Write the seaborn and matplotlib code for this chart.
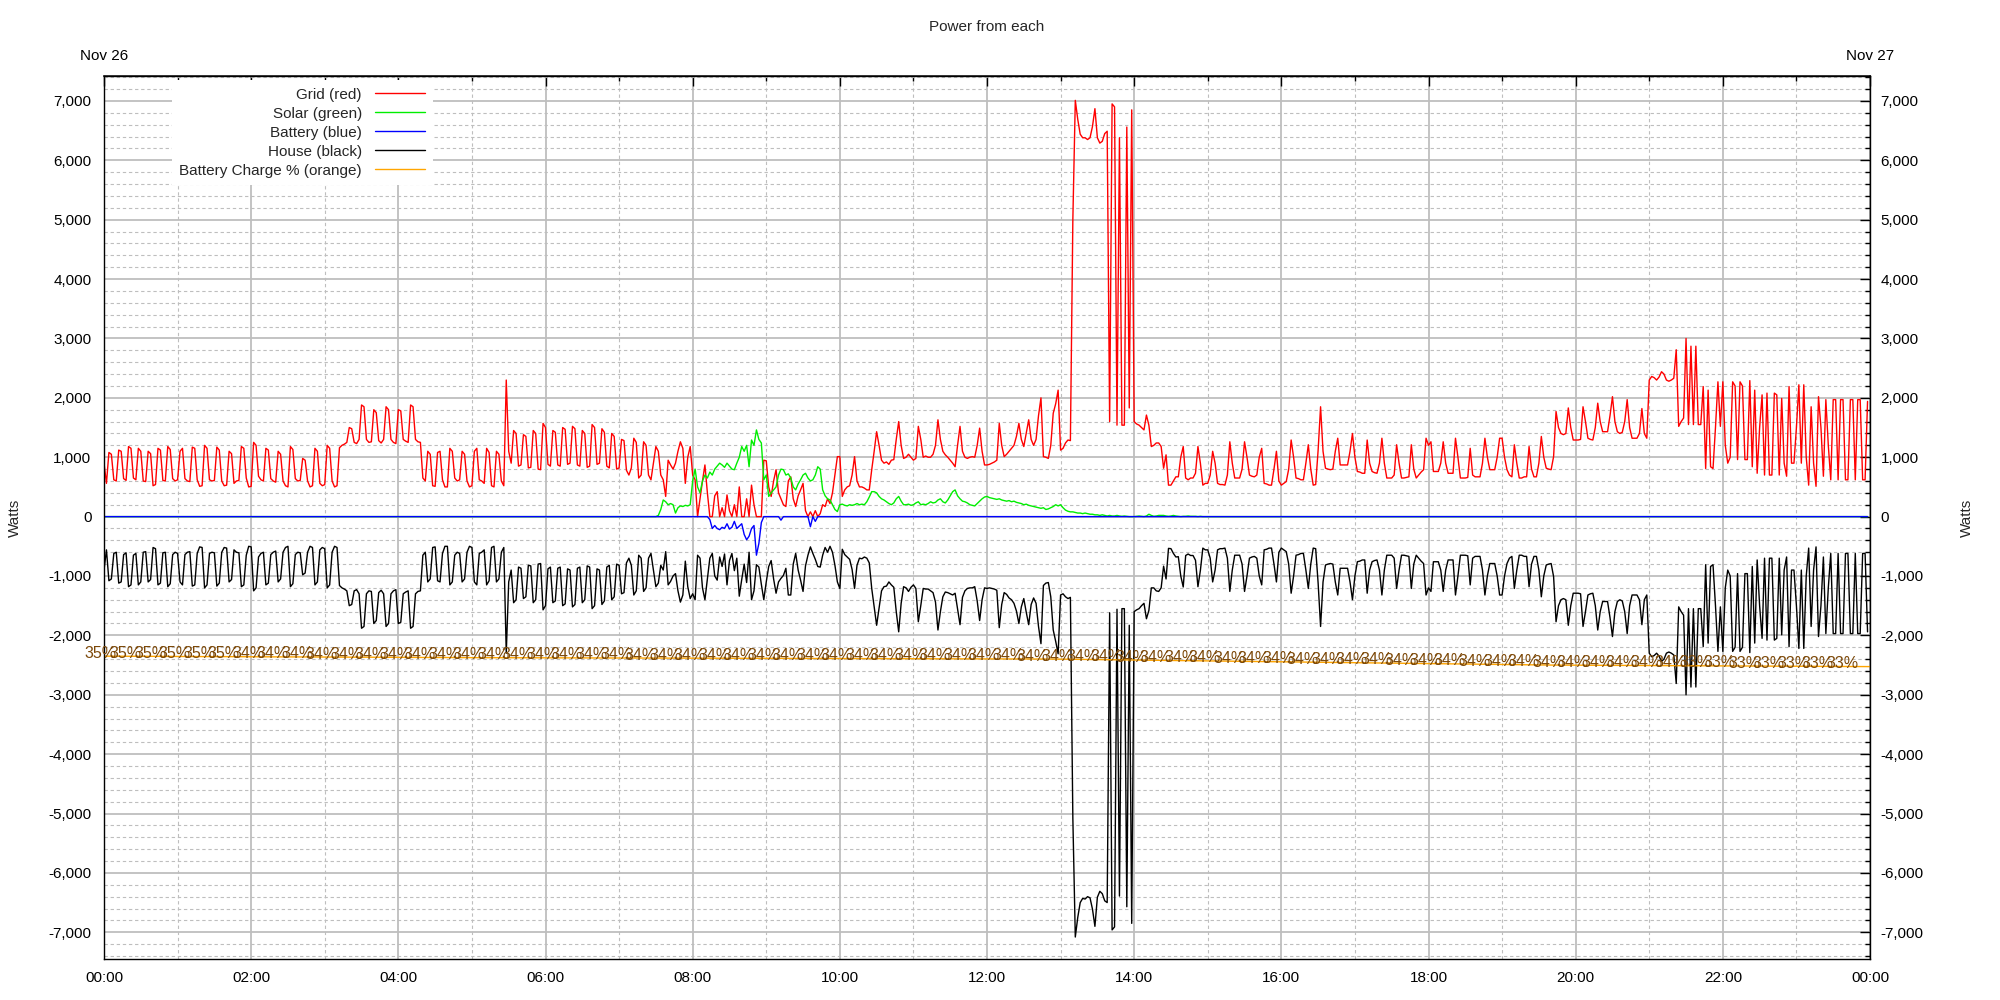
import numpy as np
import pandas as pd
import matplotlib
matplotlib.use("Agg")
import matplotlib.pyplot as plt
from matplotlib.ticker import MultipleLocator, FuncFormatter, FixedLocator
import seaborn as sns

# ======================
# DATA (watts, one value every 2 minutes, one line per hour)
# ======================

grid_w = [
    900, 560, 1080, 1050, 620, 600, 1120, 1100, 640, 610, 1180, 1150, 650, 620, 1150, 1100, 600, 590, 1100, 1060, 520, 540, 1150, 1120, 610, 600, 1180, 1130, 640, 600,
    620, 1100, 1150, 640, 600, 590, 1170, 1150, 620, 510, 520, 1200, 1150, 620, 600, 610, 1170, 1120, 600, 520, 530, 1100, 1060, 560, 600, 610, 1180, 1150, 650, 500,
    510, 1250, 1200, 680, 620, 600, 1150, 1120, 640, 600, 580, 1100, 1050, 600, 520, 500, 1180, 1130, 640, 600, 610, 980, 950, 600, 500, 520, 1150, 1100, 560, 520,
    540, 1200, 1150, 600, 500, 520, 1160, 1200, 1220, 1250, 1500, 1480, 1250, 1230, 1300, 1880, 1850, 1300, 1250, 1260, 1800, 1750, 1280, 1240, 1300, 1850, 1800, 1300, 1250, 1230,
    1800, 1780, 1300, 1270, 1250, 1880, 1850, 1300, 1260, 1250, 650, 600, 1100, 1050, 520, 510, 1080, 1100, 620, 500, 500, 1150, 1100, 650, 600, 620, 1100, 1050, 600, 500,
    520, 1100, 1150, 620, 600, 560, 1150, 1080, 520, 500, 1100, 1050, 600, 520, 2300, 1100, 900, 1450, 1400, 850, 870, 1380, 1350, 820, 830, 1450, 1400, 800, 790, 1570,
    1500, 880, 850, 1450, 1420, 870, 850, 1500, 1470, 880, 900, 1520, 1480, 870, 850, 1450, 1400, 830, 850, 1550, 1500, 880, 900, 1480, 1420, 850, 820, 1400, 1350, 800,
    820, 1300, 1280, 780, 700, 820, 1320, 1250, 650, 700, 1260, 1200, 700, 620, 900, 1180, 1100, 700, 620, 340, 950, 870, 800, 900, 1100, 1260, 1150, 560, 1000, 1180,
    700, 620, 0, 300, 600, 870, 400, 0, 0, 350, 420, 0, 150, 0, 365, 100, 0, 200, 0, 500, 0, 0, 300, 0, 530, 200, 0, 0, 0, 950,
    940, 500, 340, 600, 790, 400, 300, 200, 170, 600, 670, 300, 170, 350, 450, 560, 100, 0, 80, 0, 100, 0, 50, 200, 170, 300, 220, 400, 700, 1010,
    1010, 340, 450, 500, 520, 700, 1010, 600, 500, 500, 480, 450, 450, 790, 1100, 1430, 1200, 950, 900, 920, 880, 950, 960, 1300, 1600, 1200, 980, 1000, 1050, 1000,
    950, 980, 1520, 1300, 1000, 1020, 1000, 1000, 1050, 1200, 1630, 1300, 1100, 1040, 1000, 950, 900, 840, 1200, 1520, 1100, 1000, 980, 1000, 1010, 1000, 1200, 1490, 1100, 870,
    870, 880, 900, 920, 950, 1570, 1200, 1010, 1050, 1100, 1150, 1200, 1350, 1570, 1300, 1180, 1400, 1630, 1300, 1200, 1300, 1700, 2000, 1010, 1000, 980, 1200, 1740, 1900, 2130,
    1120, 1150, 1240, 1290, 1280, 5000, 7010, 6690, 6440, 6380, 6380, 6350, 6380, 6570, 6870, 6380, 6290, 6320, 6450, 6490, 1600, 6950, 6900, 1540, 6380, 1540, 1540, 6560, 1830, 6850,
    1600, 1560, 1540, 1500, 1460, 1710, 1540, 1180, 1200, 1240, 1240, 1180, 815, 1040, 530, 530, 600, 670, 670, 1000, 1180, 650, 620, 650, 650, 730, 1180, 900, 530, 560,
    560, 700, 1100, 900, 560, 540, 540, 530, 700, 1260, 900, 650, 650, 650, 800, 1260, 1000, 700, 680, 670, 700, 1000, 1150, 560, 550, 530, 530, 800, 1100, 600,
    530, 560, 590, 800, 1290, 1000, 650, 640, 620, 620, 900, 1210, 800, 530, 540, 1120, 1850, 1100, 815, 800, 790, 800, 1100, 1320, 870, 870, 870, 870, 1100, 1400,
    1000, 760, 750, 730, 730, 1290, 900, 760, 740, 730, 900, 1320, 900, 650, 650, 650, 700, 1210, 900, 650, 650, 660, 670, 1210, 800, 650, 700, 750, 790, 1320,
    1200, 1260, 760, 760, 760, 900, 1260, 900, 730, 730, 730, 1320, 1000, 650, 650, 650, 660, 1150, 700, 670, 670, 670, 900, 1320, 1000, 790, 790, 790, 1000, 1320,
    1320, 1000, 790, 700, 670, 1210, 900, 650, 650, 670, 670, 1180, 800, 670, 670, 900, 1350, 1000, 815, 800, 790, 1010, 1770, 1500, 1400, 1380, 1400, 1830, 1500, 1290,
    1290, 1290, 1300, 1850, 1600, 1320, 1300, 1290, 1500, 1910, 1600, 1430, 1430, 1430, 1700, 2020, 1600, 1430, 1400, 1420, 1600, 1970, 1500, 1320, 1320, 1320, 1400, 1820, 1400, 1320,
    2300, 2360, 2340, 2300, 2350, 2440, 2400, 2300, 2280, 2300, 2330, 2810, 1520, 1600, 1660, 3000, 1550, 2870, 1550, 2870, 1550, 1550, 2190, 810, 2130, 840, 810, 1500, 2270, 1520,
    2270, 1200, 900, 1000, 2270, 2200, 960, 2270, 2200, 960, 960, 2290, 840, 2130, 730, 1500, 2050, 700, 2080, 700, 700, 2080, 2050, 700, 1990, 900, 680, 2190, 900, 900,
    1500, 2220, 900, 2220, 1000, 530, 1850, 900, 510, 2020, 1500, 680, 1970, 1200, 620, 1970, 1970, 620, 1970, 1970, 620, 620, 1970, 1970, 620, 1970, 1970, 620, 620, 1940,
]

house_w = [
    -900, -560, -1080, -1050, -620, -600, -1120, -1100, -640, -610, -1180, -1150, -650, -620, -1150, -1100, -600, -590, -1100, -1060, -520, -540, -1150, -1120, -610, -600, -1180, -1130, -640, -600,
    -620, -1100, -1150, -640, -600, -590, -1170, -1150, -620, -510, -520, -1200, -1150, -620, -600, -610, -1170, -1120, -600, -520, -530, -1100, -1060, -560, -600, -610, -1180, -1150, -650, -500,
    -510, -1250, -1200, -680, -620, -600, -1150, -1120, -640, -600, -580, -1100, -1050, -600, -520, -500, -1180, -1130, -640, -600, -610, -980, -950, -600, -500, -520, -1150, -1100, -560, -520,
    -540, -1200, -1150, -600, -500, -520, -1160, -1200, -1220, -1250, -1500, -1480, -1250, -1230, -1300, -1880, -1850, -1300, -1250, -1260, -1800, -1750, -1280, -1240, -1300, -1850, -1800, -1300, -1250, -1230,
    -1800, -1780, -1300, -1270, -1250, -1880, -1850, -1300, -1260, -1250, -650, -600, -1100, -1050, -520, -510, -1080, -1100, -620, -500, -500, -1150, -1100, -650, -600, -620, -1100, -1050, -600, -500,
    -520, -1100, -1150, -620, -600, -560, -1150, -1080, -520, -500, -1100, -1050, -600, -520, -2300, -1100, -900, -1450, -1400, -850, -870, -1380, -1350, -820, -830, -1450, -1400, -800, -790, -1570,
    -1500, -880, -850, -1450, -1420, -870, -850, -1500, -1470, -880, -900, -1520, -1480, -870, -850, -1450, -1400, -830, -850, -1550, -1500, -880, -900, -1480, -1420, -850, -820, -1400, -1350, -800,
    -820, -1300, -1280, -780, -700, -820, -1320, -1250, -650, -700, -1260, -1200, -700, -620, -900, -1180, -1120, -820, -900, -590, -1150, -1090, -1000, -960, -1250, -1440, -1320, -750, -1180, -1380,
    -1300, -1400, -650, -700, -1200, -1400, -1050, -700, -620, -1000, -1070, -680, -840, -630, -1150, -740, -620, -910, -700, -1340, -1060, -800, -1110, -600, -1400, -1250, -810, -850, -1140, -1400,
    -1100, -840, -740, -1050, -1290, -1100, -1040, -990, -870, -1320, -1320, -800, -620, -900, -1070, -1260, -830, -650, -510, -620, -720, -840, -850, -650, -520, -600, -500, -600, -820, -1100,
    -1210, -550, -640, -680, -720, -890, -1210, -820, -700, -710, -680, -700, -780, -1210, -1520, -1830, -1540, -1250, -1180, -1170, -1100, -1150, -1190, -1600, -1940, -1460, -1180, -1200, -1260, -1190,
    -1150, -1210, -1770, -1500, -1210, -1220, -1220, -1250, -1280, -1440, -1910, -1600, -1350, -1270, -1280, -1300, -1320, -1290, -1550, -1820, -1360, -1250, -1210, -1200, -1200, -1180, -1420, -1750, -1400, -1200,
    -1210, -1200, -1210, -1220, -1240, -1870, -1480, -1280, -1310, -1370, -1400, -1460, -1590, -1800, -1520, -1380, -1610, -1820, -1480, -1370, -1460, -1850, -2140, -1160, -1120, -1110, -1350, -1910, -2100, -2310,
    -1320, -1300, -1350, -1380, -1360, -5080, -7080, -6750, -6500, -6430, -6440, -6400, -6420, -6610, -6900, -6410, -6310, -6350, -6470, -6500, -1620, -6960, -6910, -1560, -6390, -1550, -1550, -6570, -1830, -6850,
    -1600, -1570, -1550, -1500, -1460, -1720, -1580, -1200, -1200, -1250, -1260, -1200, -835, -1050, -535, -540, -620, -680, -675, -1000, -1185, -655, -630, -655, -655, -735, -1180, -905, -530, -560,
    -560, -700, -1100, -900, -560, -540, -540, -530, -700, -1260, -900, -650, -650, -650, -800, -1260, -1000, -700, -680, -670, -700, -1000, -1150, -560, -550, -530, -530, -800, -1100, -600,
    -530, -560, -590, -800, -1290, -1000, -650, -640, -620, -620, -900, -1210, -800, -530, -540, -1120, -1850, -1100, -815, -800, -790, -800, -1100, -1320, -870, -870, -870, -870, -1100, -1400,
    -1000, -760, -750, -730, -730, -1290, -900, -760, -740, -730, -900, -1320, -900, -650, -650, -650, -700, -1210, -900, -650, -650, -660, -670, -1210, -800, -650, -700, -750, -790, -1320,
    -1200, -1260, -760, -760, -760, -900, -1260, -900, -730, -730, -730, -1320, -1000, -650, -650, -650, -660, -1150, -700, -670, -670, -670, -900, -1320, -1000, -790, -790, -790, -1000, -1320,
    -1320, -1000, -790, -700, -670, -1210, -900, -650, -650, -670, -670, -1180, -800, -670, -670, -900, -1350, -1000, -815, -800, -790, -1010, -1770, -1500, -1400, -1380, -1400, -1830, -1500, -1290,
    -1290, -1290, -1300, -1850, -1600, -1320, -1300, -1290, -1500, -1910, -1600, -1430, -1430, -1430, -1700, -2020, -1600, -1430, -1400, -1420, -1600, -1970, -1500, -1320, -1320, -1320, -1400, -1820, -1400, -1320,
    -2300, -2360, -2340, -2300, -2350, -2440, -2400, -2300, -2280, -2300, -2330, -2810, -1520, -1600, -1660, -3000, -1550, -2870, -1550, -2870, -1550, -1550, -2190, -810, -2130, -840, -810, -1500, -2270, -1520,
    -2270, -1200, -900, -1000, -2270, -2200, -960, -2270, -2200, -960, -960, -2290, -840, -2130, -730, -1500, -2050, -700, -2080, -700, -700, -2080, -2050, -700, -1990, -900, -680, -2190, -900, -900,
    -1500, -2220, -900, -2220, -1000, -530, -1850, -900, -510, -2020, -1500, -680, -1970, -1200, -620, -1970, -1970, -620, -1970, -1970, -620, -620, -1970, -1970, -620, -1970, -1970, -620, -620, -1940,
]

# solar only between 07:30 and 15:00, zero the rest of the day
solar_start = 450
solar_w = [
    0, 20, 120, 280, 250, 200, 220, 200, 60, 150, 180, 170, 190, 180, 200,
    600, 800, 500, 400, 600, 700, 650, 750, 700, 800, 850, 900, 870, 830, 900, 850, 800, 790, 900, 1000, 1180, 1100, 1200, 840, 1290, 1200, 1460, 1300, 1240, 620,
    700, 340, 400, 450, 500, 700, 800, 790, 700, 720, 650, 500, 450, 550, 620, 700, 730, 650, 600, 620, 700, 840, 800, 450, 350, 300, 280, 200, 120, 85,
    200, 210, 190, 180, 200, 190, 200, 220, 200, 210, 200, 250, 330, 420, 420, 400, 340, 300, 280, 250, 220, 200, 230, 300, 340, 260, 200, 200, 210, 190,
    200, 230, 250, 200, 210, 200, 220, 250, 230, 240, 280, 300, 250, 230, 280, 350, 420, 450, 350, 300, 260, 250, 230, 200, 190, 180, 220, 260, 300, 330,
    340, 320, 310, 300, 290, 300, 280, 270, 260, 270, 250, 260, 240, 230, 220, 200, 210, 190, 180, 170, 160, 150, 140, 150, 120, 130, 150, 170, 200, 180,
    200, 150, 110, 90, 80, 80, 70, 60, 60, 50, 60, 50, 40, 40, 30, 30, 20, 30, 20, 10, 20, 10, 10, 20, 10, 5, 10, 5, 0, 0,
    0, 5, 10, 5, 0, 10, 40, 20, 5, 10, 20, 20, 20, 10, 5, 10, 20, 10, 5, 0, 5, 5, 10, 5, 5, 5, 0, 5, 0, 0,
]

# battery only moves between 08:00 and 10:00 (charging = negative)
battery_start = 480
battery_w = [
    0, 0, 0, 0, 0, 0, 0, -50, -200, -150, -200, -220, -180, -200, -120, -210, -180, -80, -200, -160, -120, -300, -390, -330, -200, -150, -650, -450, -100, 0,
    0, 0, 0, 0, 0, 0, -60, 0, 0, 0, 0, 0, 0, 0, 0, 0, 0, 0, -170, 0, -80, 0, 0, 0, 0, 0, 0, 0, 0, 0,
]

# battery charge line (every 20 minutes) and its % labels
charge_line_w = [
    -2350, -2352, -2353, -2355, -2357, -2358, -2360, -2362, -2363, -2365, -2367, -2368, -2370, -2372, -2373, -2375,
    -2376, -2377, -2378, -2379, -2380, -2381, -2382, -2383, -2384, -2385, -2386, -2387, -2388, -2389, -2390, -2391,
    -2392, -2393, -2394, -2395, -2396, -2397, -2398, -2400,
    -2405, -2410, -2415, -2420, -2425, -2430, -2435, -2440, -2445, -2450, -2455, -2460, -2465, -2470, -2475, -2480,
    -2485, -2490, -2495, -2500,
    -2502, -2504, -2506, -2508, -2510, -2512, -2514, -2516, -2518, -2520, -2522, -2524, -2526,
]
charge_pct = [
    35, 35, 35, 35, 35, 35,
    34, 34, 34, 34, 34, 34, 34, 34, 34, 34, 34, 34, 34, 34, 34, 34, 34, 34, 34, 34,
    34, 34, 34, 34, 34, 34, 34, 34, 34, 34, 34, 34, 34, 34, 34, 34, 34, 34, 34, 34,
    34, 34, 34, 34, 34, 34, 34, 34, 34, 34, 34, 34, 34, 34, 34, 34, 34, 34, 34,
    33, 33, 33, 33, 33, 33, 33,
]

hour_labels = ["00:00", "02:00", "04:00", "06:00", "08:00", "10:00", "12:00",
               "14:00", "16:00", "18:00", "20:00", "22:00", "00:00"]
day_labels = ["Nov 26", "Nov 27"]
series_names = ["Grid (red)", "Solar (green)", "Battery (blue)", "House (black)",
                "Battery Charge % (orange)"]

# ======================
# TABLE
# ======================

minutes = np.arange(0, 1440, 2)
solar_full = np.zeros(len(minutes))
solar_full[solar_start // 2: solar_start // 2 + len(solar_w)] = solar_w
battery_full = np.zeros(len(minutes))
battery_full[battery_start // 2: battery_start // 2 + len(battery_w)] = battery_w

df = pd.DataFrame({"minute": minutes, "grid": grid_w, "solar": solar_full,
                   "battery": battery_full, "house": house_w})
charge_min = np.arange(0, 1441, 20)

# ======================
# PLOT
# ======================

sns.set_theme(style="white")
plt.rcParams["font.family"] = ["Liberation Sans", "DejaVu Sans"]
plt.rcParams["axes.unicode_minus"] = False

fig = plt.figure(figsize=(20, 10), dpi=100)
ax = fig.add_axes([0.052, 0.041, 0.883, 0.883])

colors = {"grid": "#ff0000", "solar": "#00ee00", "battery": "#0000ff", "house": "#000000"}
for col, name in zip(["grid", "solar", "battery", "house"], series_names[:4]):
    sns.lineplot(data=df, x="minute", y=col, ax=ax, color=colors[col], lw=1.0,
                 label=name, estimator=None)

sns.lineplot(x=charge_min, y=charge_line_w, ax=ax, color="#ffa500", lw=1.0,
             label=series_names[4], estimator=None)
for m, w, p in zip(charge_min, charge_line_w, charge_pct):
    ax.annotate(f"{p}%", (m, w), xytext=(-3, 3), textcoords="offset pixels",
                ha="center", va="center", color="#7c4808", fontsize=11.5,
                annotation_clip=False)

ax.set_xlim(0, 1440)
ax.set_ylim(-7450, 7420)
ax.xaxis.set_major_locator(FixedLocator(list(range(0, 1441, 120))))
ax.set_xticklabels(hour_labels)
ax.xaxis.set_minor_locator(MultipleLocator(60))
ax.yaxis.set_major_locator(MultipleLocator(1000))
ax.yaxis.set_minor_locator(MultipleLocator(200))

def watts(v, pos):
    if abs(v) < 0.5:
        return "0"
    return f"{v:,.0f}"

ax.yaxis.set_major_formatter(FuncFormatter(watts))

ax.grid(which="major", color="#bebebe", lw=1.3, ls="-")
ax.grid(which="minor", color="#bebebe", lw=0.8, ls=(0, (3, 2.5)))
ax.set_axisbelow(True)

ax.tick_params(which="both", direction="in", top=True, right=True,
               colors="black", labelsize=11)
ax.tick_params(which="major", length=7.5, width=1)
ax.tick_params(which="minor", length=3.8, width=1)
ax.tick_params(axis="x", pad=9)
ax.tick_params(axis="y", pad=9)
for s in ax.spines.values():
    s.set_color("black")
    s.set_linewidth(1.0)

ax.set_xlabel("")
ax.set_ylabel("Watts", fontsize=11, labelpad=19)

# right side mirror of watts
sec_y = ax.secondary_yaxis("right")
sec_y.yaxis.set_major_locator(MultipleLocator(1000))
sec_y.yaxis.set_major_formatter(FuncFormatter(watts))
sec_y.tick_params(length=0, pad=7.5, labelsize=11, colors="black")
sec_y.set_ylabel("Watts", fontsize=11, labelpad=26)

# date labels on top
sec_x = ax.secondary_xaxis("top")
sec_x.set_xticks([0, 1440], day_labels)
sec_x.tick_params(length=0, pad=9, labelsize=11, colors="black")

handles, labels = ax.get_legend_handles_labels()
leg = ax.legend(handles, labels, loc="upper right", bbox_to_anchor=(0.1863, 0.9955),
                frameon=True, facecolor="white", edgecolor="none", framealpha=1,
                markerfirst=False, handlelength=3.3, handletextpad=0.85,
                labelspacing=0.33, borderpad=0.5, borderaxespad=0, fontsize=11,
                fancybox=False)

fig.suptitle("Power from each", x=0.4935, y=0.973, va="center", fontsize=11)

plt.savefig("out.png", dpi=100)
